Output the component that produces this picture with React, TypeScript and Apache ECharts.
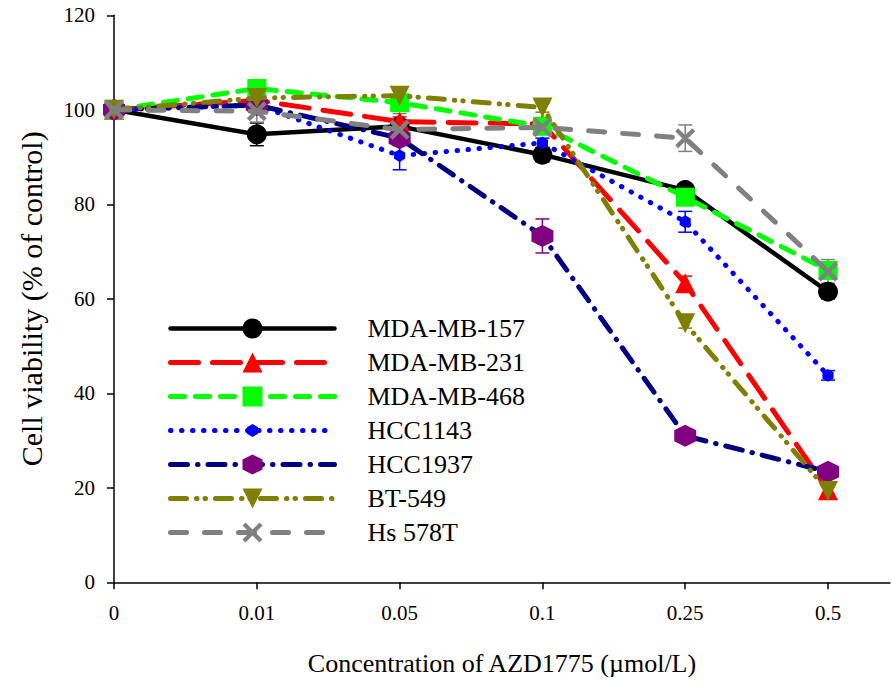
import React, { useEffect, useRef } from "react";
import * as echarts from "echarts";

const categories = ["0", "0.01", "0.05", "0.1", "0.25", "0.5"];
const yTicks = [0, 20, 40, 60, 80, 100, 120];

const seriesNames = ["MDA-MB-157", "MDA-MB-231", "MDA-MB-468", "HCC1143", "HCC1937", "BT-549", "Hs 578T"];

const mdamb157 = [100, 94.8, 96.5, 90.5, 83, 61.5];
const mdamb231 = [100, 102, 97.5, 97, 63.3, 19.5];
const mdamb468 = [100, 104.5, 101.5, 96.5, 81.5, 66];
const hcc1143 = [100, 101, 90.3, 93, 76.3, 43.8];
const hcc1937 = [100, 101, 94, 73.3, 31, 23.4];
const bt549 = [100, 102.5, 103, 100.5, 54.8, 19.3];
const hs578t = [100, 99.7, 95.8, 96.3, 94, 65.8];

const err157 = [0.5, 2.4, 1, 1.5, 1.2, 1.5];
const err231 = [0.5, 1, 1, 1, 1.5, 1];
const err468 = [0.5, 1, 1, 1, 1.5, 1];
const err1143 = [0.5, 1, 3, 1, 2.2, 1];
const err1937 = [0.5, 1, 1.5, 3.6, 1.2, 1];
const err549 = [0.5, 1, 1, 1, 1, 1];
const err578 = [0.5, 2.3, 3.4, 1, 2.8, 2.5];

const FONT = "Liberation Serif, Times New Roman, serif";

const HEX_SMALL =
  "path://M-2.8,-2.8 M12.8,12.8 M5,0 L9.33,2.5 L9.33,7.5 L5,10 L0.67,7.5 L0.67,2.5 Z";
const HEX = "path://M5,0 L9.33,2.5 L9.33,7.5 L5,10 L0.67,7.5 L0.67,2.5 Z";
const INV_TRI = "path://M0,0 L10,0 L5,10 Z";
const XMARK =
  "path://M0,1.5 L1.5,0 L5,3.5 L8.5,0 L10,1.5 L6.5,5 L10,8.5 L8.5,10 L5,6.5 L1.5,10 L0,8.5 L3.5,5 Z";

type Spec = {
  name: string;
  values: number[];
  errs: number[];
  line: string;
  marker: string;
  symbol: string;
  size: number;
  dash: number[] | "solid";
  width: number;
};

const specs: Spec[] = [
  { name: seriesNames[0], values: mdamb157, errs: err157, line: "#000000", marker: "#000000", symbol: "circle", size: 20, dash: "solid", width: 4.5 },
  { name: seriesNames[1], values: mdamb231, errs: err231, line: "#ff0000", marker: "#ff0000", symbol: "triangle", size: 20, dash: [28, 14], width: 5 },
  { name: seriesNames[2], values: mdamb468, errs: err468, line: "#00ff00", marker: "#00ff00", symbol: "rect", size: 19, dash: [14, 11], width: 5 },
  { name: seriesNames[3], values: hcc1143, errs: err1143, line: "#0000ff", marker: "#0000ff", symbol: HEX_SMALL, size: 20, dash: [0.5, 10.5], width: 5 },
  { name: seriesNames[4], values: hcc1937, errs: err1937, line: "#000080", marker: "#800080", symbol: HEX, size: 22, dash: [17, 10, 0.5, 10], width: 5 },
  { name: seriesNames[5], values: bt549, errs: err549, line: "#808000", marker: "#808000", symbol: INV_TRI, size: 20, dash: [16, 10, 0.5, 8, 0.5, 10], width: 5 },
  { name: seriesNames[6], values: hs578t, errs: err578, line: "#808080", marker: "#808080", symbol: XMARK, size: 20, dash: [16, 18], width: 5 },
];

export default function App() {
  const ref = useRef<HTMLDivElement>(null);

  useEffect(() => {
    if (!ref.current) return;
    const chart = echarts.init(ref.current, undefined, { renderer: "svg" });

    const lineSeries: any[] = [];
    const errSeries: any[] = [];
    specs.forEach((s, si) => {
      errSeries.push({
        type: "custom",
        name: s.name + " err",
        z: 2,
        silent: true,
        data: s.values.map((v, i) => [i, v - s.errs[i], v + s.errs[i]]),
        renderItem: (params: any, api: any) => {
          const x = api.value(0);
          const lo = api.coord([x, api.value(1)]);
          const hi = api.coord([x, api.value(2)]);
          const hw = 7;
          const style = { stroke: s.marker, lineWidth: 1.5, fill: "none" };
          return {
            type: "group",
            children: [
              { type: "line", shape: { x1: lo[0], y1: lo[1], x2: hi[0], y2: hi[1] }, style },
              { type: "line", shape: { x1: lo[0] - hw, y1: lo[1], x2: lo[0] + hw, y2: lo[1] }, style },
              { type: "line", shape: { x1: hi[0] - hw, y1: hi[1], x2: hi[0] + hw, y2: hi[1] }, style },
            ],
          };
        },
      });
      lineSeries.push({
        type: "line",
        name: s.name,
        z: 3 + si,
        data: s.values.map((v, i) => [i, v]),
        symbol: s.symbol,
        symbolSize: s.size,
        showAllSymbol: true,
        itemStyle: { color: s.marker, borderWidth: 0 },
        lineStyle: { color: s.line, width: s.width, type: s.dash, cap: "round", join: "round" },
        emphasis: { disabled: true },
      });
    });

    chart.setOption({
      animation: false,
      backgroundColor: "#ffffff",
      grid: { left: 114, right: 2, top: 15.3, bottom: 100.7 },
      legend: {
        orient: "vertical",
        left: 168,
        top: 315.5,
        padding: 0,
        itemWidth: 164,
        itemHeight: 25,
        itemGap: 8,
        selectedMode: false,
        data: specs.map((s) => ({
          name: s.name,
          itemStyle: { color: s.marker, borderWidth: 0 },
          lineStyle: { color: s.line, width: s.width, type: s.dash, cap: "round" },
        })),
        textStyle: {
          fontFamily: FONT,
          fontSize: 26,
          color: "#000",
          lineHeight: 25,
          padding: [0, 0, 0, 28],
        },
      },
      xAxis: {
        type: "value",
        min: 0,
        max: 5.434,
        interval: 1,
        name: "Concentration of AZD1775 (\u00b5mol/L)",
        nameLocation: "middle",
        nameGap: 68,
        nameTextStyle: { fontFamily: FONT, fontSize: 26, color: "#000" },
        splitLine: { show: false },
        axisLine: { lineStyle: { color: "#000", width: 1.5 } },
        axisTick: {
          inside: false,
          length: 7,
          lineStyle: { color: "#000", width: 1.5 },
          customValues: [0, 1, 2, 3, 4, 5],
        },
        axisLabel: {
          margin: 20,
          fontFamily: FONT,
          fontSize: 21,
          color: "#000",
          customValues: [0, 1, 2, 3, 4, 5],
          formatter: (v: number) => {
            const i = Math.round(v);
            return Math.abs(v - i) < 1e-6 && categories[i] !== undefined ? categories[i] : "";
          },
        },
      },
      yAxis: {
        type: "value",
        min: 0,
        max: 120,
        interval: 20,
        name: "Cell viability (% of control)",
        nameLocation: "middle",
        nameGap: 68,
        nameTextStyle: { fontFamily: FONT, fontSize: 30, color: "#000" },
        splitLine: { show: false },
        axisLine: { show: true, lineStyle: { color: "#000", width: 1.5 } },
        axisTick: { show: true, inside: false, length: 7, lineStyle: { color: "#000", width: 1.5 } },
        axisLabel: {
          margin: 19,
          fontFamily: FONT,
          fontSize: 21,
          color: "#000",
          customValues: yTicks,
        },
      },
      series: [...errSeries, ...lineSeries],
    });

    return () => chart.dispose();
  }, []);

  return (
    <div
      ref={ref}
      style={{ position: "fixed", left: 0, top: 0, width: 892, height: 683, background: "#fff" }}
    />
  );
}
